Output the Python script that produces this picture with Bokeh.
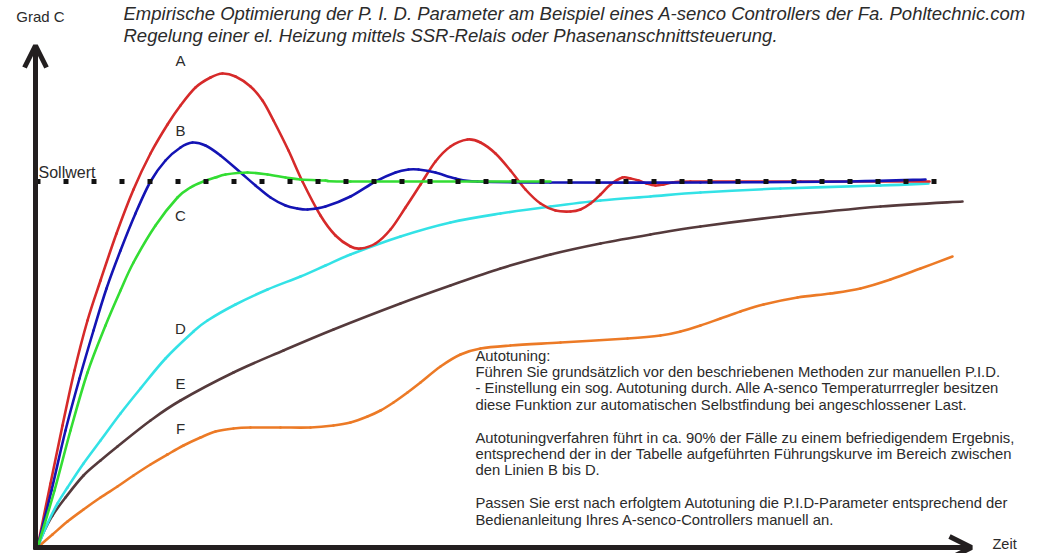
from bokeh.plotting import figure
from bokeh.models import Range1d, Arrow, OpenHead, Label
from bokeh.embed import file_html
from bokeh.resources import INLINE

# ---- data (time, temperature); origin at the axes corner ----
SETPOINT = 366
sp_t = [-2, 921]

a_t = [0, 13, 25, 37, 50, 63, 79, 96, 113, 130, 143, 158, 173, 185, 198, 213, 225, 236, 251, 265, 283, 298, 313, 323, 338, 353, 368, 383, 398, 413, 430, 443, 458, 473, 488, 503, 518, 533, 543, 553, 563, 573, 585, 593, 601, 609, 618, 626, 635, 653, 763, 892]
a_T = [0, 64, 122, 177, 227, 267, 314, 358, 394, 423, 442, 460, 470, 474, 471, 461, 447, 427, 397, 366, 332, 312, 301, 299, 304, 318, 340, 363, 386, 401, 408, 405, 394, 377, 358, 344, 337, 336, 338, 344, 353, 363, 370, 369, 367, 364, 362, 363, 365, 366, 366, 366]

b_t = [0, 14, 28, 42, 56, 69, 83, 98, 113, 128, 143, 155, 168, 183, 203, 218, 233, 248, 260, 270, 288, 313, 338, 358, 371, 381, 398, 418, 440, 513, 663, 813, 888]
b_T = [0, 57, 117, 169, 217, 259, 297, 334, 366, 387, 400, 405, 402, 392, 375, 362, 350, 342, 339, 338, 341, 351, 366, 375, 378, 378, 375, 369, 366, 365, 365, 366, 368]

c_t = [0, 17, 33, 50, 68, 83, 96, 118, 140, 153, 166, 178, 188, 210, 230, 248, 263, 288, 313, 513]
c_T = [0, 57, 117, 175, 222, 257, 285, 322, 350, 360, 366, 370, 373, 375, 373, 370, 368, 367, 366, 366]

d_t = [0, 10, 20, 30, 46, 63, 83, 103, 128, 156, 170, 198, 230, 263, 288, 313, 363, 413, 463, 513, 563, 613, 663, 743, 843, 891]
d_T = [0, 24, 44, 60, 84, 107, 134, 159, 189, 216, 227, 243, 258, 271, 282, 293, 311, 325, 334, 341, 347, 351, 355, 359, 362, 364]

e_t = [0, 6, 15, 28, 46, 63, 80, 113, 143, 196, 246, 296, 363, 413, 463, 513, 563, 613, 663, 743, 843, 925]
e_T = [0, 15, 32, 50, 72, 87, 101, 127, 147, 175, 197, 218, 244, 262, 279, 293, 304, 313, 321, 331, 341, 346]

f_t = [0, 15, 30, 46, 63, 80, 96, 113, 130, 146, 163, 178, 196, 213, 243, 273, 296, 313, 330, 343, 356, 370, 383, 403, 423, 443, 473, 523, 590, 623, 643, 663, 683, 703, 726, 760, 793, 823, 853, 883, 915]
f_T = [0, 13, 26, 38, 50, 61, 72, 83, 93, 102, 110, 116, 119, 120, 120, 120, 122, 125, 131, 137, 145, 155, 165, 181, 193, 199, 202, 205, 209, 212, 216, 222, 229, 236, 243, 250, 254, 259, 268, 279, 291]

curve_names = ["A", "B", "C", "D", "E", "F"]
label_t = [143, 143, 143, 143, 143, 143]
label_T = [487, 417, 332, 219, 164, 119]

title_lines = [
    "Empirische Optimierung der P. I. D. Parameter am Beispiel eines A-senco Controllers der Fa. Pohltechnic.com",
    "Regelung einer el. Heizung mittels SSR-Relais oder Phasenanschnittsteuerung.",
]
note_lines = [
    "Autotuning:",
    "Führen Sie grundsätzlich vor den beschriebenen Methoden zur manuellen P.I.D.",
    "- Einstellung ein sog. Autotuning durch. Alle A-senco Temperaturrregler besitzen",
    "diese Funktion zur automatischen Selbstfindung bei angeschlossener Last.",
    "",
    "Autotuningverfahren führt in ca. 90% der Fälle zu einem befriedigendem Ergebnis,",
    "entsprechend der in der Tabelle aufgeführten Führungskurve im Bereich zwischen",
    "den Linien B bis D.",
    "",
    "Passen Sie erst nach erfolgtem Autotuning die P.I.D-Parameter entsprechend der",
    "Bedienanleitung Ihres A-senco-Controllers manuell an.",
]

FONT = "Liberation Sans"
TXT = "#2b2b2b"

p = figure(width=1037, height=553, output_backend="svg", toolbar_location=None,
           x_range=Range1d(-37, 1000), y_range=Range1d(-6, 547),
           min_border=0, outline_line_color=None)
p.axis.visible = False
p.grid.visible = False
p.background_fill_color = "white"


def smooth(xs, ys, color, width=2.6):
    """Draw a smooth curve through the read points (Catmull-Rom as cubic Beziers)."""
    n = len(xs)
    x0, y0, x1, y1, cx0, cy0, cx1, cy1 = [], [], [], [], [], [], [], []
    for i in range(n - 1):
        pa = max(i - 1, 0)
        pb = min(i + 2, n - 1)
        x0.append(xs[i]); y0.append(ys[i])
        x1.append(xs[i + 1]); y1.append(ys[i + 1])
        cx0.append(xs[i] + (xs[i + 1] - xs[pa]) / 6.0)
        cy0.append(ys[i] + (ys[i + 1] - ys[pa]) / 6.0)
        cx1.append(xs[i + 1] - (xs[pb] - xs[i]) / 6.0)
        cy1.append(ys[i + 1] - (ys[pb] - ys[i]) / 6.0)
    p.bezier(x0=x0, y0=y0, x1=x1, y1=y1, cx0=cx0, cy0=cy0, cx1=cx1, cy1=cy1,
             line_color=color, line_width=width, line_cap="round")


# curves
smooth(f_t, f_T, "#ec7a26")
smooth(e_t, e_T, "#553a3c")
smooth(d_t, d_T, "#33e2e6")
smooth(a_t, a_T, "#d62a2a")
smooth(b_t, b_T, "#1414b4")
smooth(c_t, c_T, "#33dd33")

# setpoint (dotted)
p.line(sp_t, [SETPOINT, SETPOINT], line_color="#111111", line_width=5, line_dash="5 23")

# axes with arrows
AX = "#231f20"
p.add_layout(Arrow(end=OpenHead(size=22, line_width=5, line_color=AX),
                   x_start=-2, y_start=-2, x_end=-2, y_end=502,
                   line_width=5, line_color=AX))
p.add_layout(Arrow(end=OpenHead(size=22, line_width=5, line_color=AX),
                   x_start=-4, y_start=0, x_end=934, y_end=0,
                   line_width=5, line_color=AX))

# curve labels
for name, lt, lT in zip(curve_names, label_t, label_T):
    p.add_layout(Label(x=lt, y=lT, text=name, text_font=FONT, text_font_size="15px",
                       text_color=TXT, text_align="center", text_baseline="middle"))

p.add_layout(Label(x=1, y=375, text="Sollwert", text_font=FONT, text_font_size="16px",
                   text_color=TXT, text_align="left", text_baseline="middle"))
p.add_layout(Label(x=3, y=531, text="Grad C", text_font=FONT, text_font_size="15px",
                   text_color=TXT, text_align="center", text_baseline="middle"))
p.add_layout(Label(x=955, y=4, text="Zeit", text_font=FONT, text_font_size="14.5px",
                   text_color=TXT, text_align="left", text_baseline="middle"))

for i, line in enumerate(title_lines):
    p.add_layout(Label(x=86, y=534 - 22 * i, text=line, text_font=FONT,
                       text_font_size="18.5px", text_font_style="italic",
                       text_color=TXT, text_align="left", text_baseline="middle"))

for i, line in enumerate(note_lines):
    if line:
        p.add_layout(Label(x=438, y=192 - 16.4 * i, text=line, text_font=FONT,
                           text_font_size="14.8px", text_color=TXT,
                           text_align="left", text_baseline="middle"))

open("out.html", "w").write(file_html(p, INLINE))
